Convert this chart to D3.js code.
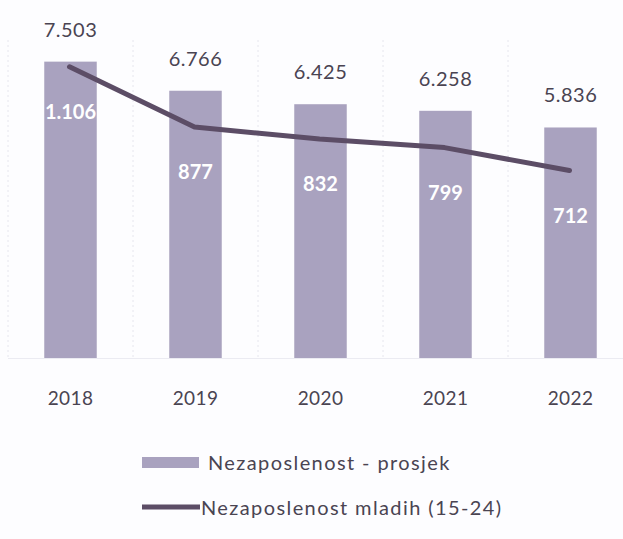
<!DOCTYPE html>
<html>
<head>
<meta charset="utf-8">
<script src="https://cdn.jsdelivr.net/npm/d3@7"></script>
<style>
body { margin: 0; background: #fdfdff; }
text { font-family: Lato, "Open Sans", sans-serif; }
</style>
</head>
<body>
<div id="main_div"></div>
<script>
var years = ["2018", "2019", "2020", "2021", "2022"];
var prosjek = [7503, 6766, 6425, 6258, 5836];
var mladi = [1106, 877, 832, 799, 712];
var legendLabels = ["Nezaposlenost - prosjek", "Nezaposlenost mladih (15-24)"];

var fmt = function(v) { return d3.format(",")(v).replace(",", "."); };

var svg = d3.select("#main_div").append("svg").attr("width", 623).attr("height", 539);

var x_scale = d3.scaleBand().domain(years).range([8, 633]).paddingInner(0.58).paddingOuter(0.29);
var y_scale = d3.scaleLinear().domain([0, 8000]).range([358, 42]);
var y_scale_2 = d3.scaleLinear().domain([0, 1200]).range([358, 42]);

// faint category separators
var seps = d3.range(years.length + 1).map(function(i) { return 8 + i * 125; });
svg.append("g").selectAll("line").data(seps).enter().append("line")
    .attr("x1", function(d) { return d; }).attr("x2", function(d) { return d; })
    .attr("y1", 40).attr("y2", 358)
    .attr("stroke", "#e6e6ee").attr("stroke-dasharray", "2,3");

svg.append("line").attr("x1", 8).attr("x2", 623).attr("y1", 358.5).attr("y2", 358.5)
    .attr("stroke", "#ebebf2");

var bars = svg.append("g").selectAll("rect").data(prosjek).enter().append("rect");
bars.attr("x", function(d, i) { return x_scale(years[i]); })
    .attr("y", function(d) { return y_scale(d); })
    .attr("width", x_scale.bandwidth())
    .attr("height", function(d) { return y_scale(0) - y_scale(d); })
    .attr("fill", "#a9a2bf");

svg.append("g").selectAll("text").data(prosjek).enter().append("text")
    .attr("x", function(d, i) { return x_scale(years[i]) + x_scale.bandwidth() / 2; })
    .attr("y", function(d) { return y_scale(d) - 25; })
    .attr("text-anchor", "middle")
    .attr("font-size", 20)
    .attr("letter-spacing", 0.5)
    .attr("fill", "#4a4452")
    .text(fmt);

var line = d3.line()
    .x(function(d, i) { return x_scale(years[i]) + x_scale.bandwidth() / 2 - 1; })
    .y(function(d) { return y_scale_2(d); });

svg.append("path").datum(mladi)
    .attr("d", line)
    .attr("fill", "none")
    .attr("stroke", "#5c4d66")
    .attr("stroke-width", 5)
    .attr("stroke-linecap", "round")
    .attr("stroke-linejoin", "round");

svg.append("g").selectAll("text").data(mladi).enter().append("text")
    .attr("x", function(d, i) { return x_scale(years[i]) + x_scale.bandwidth() / 2; })
    .attr("y", function(d) { return y_scale_2(d) + 52; })
    .attr("text-anchor", "middle")
    .attr("font-size", 20)
    .attr("font-weight", "bold")
    .attr("fill", "#ffffff")
    .text(fmt);

var g_x = svg.append("g").attr("transform", "translate(0,358)")
    .call(d3.axisBottom(x_scale).tickSize(0).tickPadding(34));
g_x.select(".domain").remove();
g_x.selectAll("text").attr("font-size", 19).attr("fill", "#4a4452")
    .attr("letter-spacing", 0.4)
    .style("font-family", "Lato, 'Open Sans', sans-serif");

// legend
var lg = svg.append("g");
lg.append("rect").attr("x", 142).attr("y", 457).attr("width", 57).attr("height", 11).attr("fill", "#a9a2bf");
lg.append("line").attr("x1", 142).attr("x2", 200).attr("y1", 507).attr("y2", 507)
    .attr("stroke", "#5c4d66").attr("stroke-width", 5);
lg.selectAll("text").data(legendLabels).enter().append("text")
    .attr("x", function(d, i) { return i == 0 ? 208 : 201; })
    .attr("y", function(d, i) { return 470 + i * 45; })
    .attr("font-size", 20)
    .attr("letter-spacing", 1.4)
    .attr("fill", "#4a4452")
    .text(function(d) { return d; });
</script>
</body>
</html>
